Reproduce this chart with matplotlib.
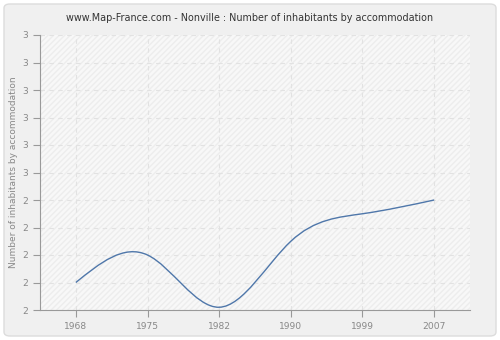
import matplotlib
matplotlib.use("Agg")
import matplotlib.pyplot as plt
from matplotlib.path import Path
from matplotlib.patches import PathPatch, FancyBboxPatch, Rectangle
from matplotlib.ticker import FuncFormatter
import numpy as np
import math

# data
years = ["1968", "1975", "1982", "1990", "1999", "2007"]
values = [2.1, 2.2, 2.01, 2.25, 2.35, 2.4]

title = "www.Map-France.com - Nonville : Number of inhabitants by accommodation"
ylabel = "Number of inhabitants by accommodation"

fig = plt.figure(figsize=(5, 3.4), dpi=100)
fig.patch.set_facecolor("white")
fig.patches.append(FancyBboxPatch((4 / 500, 4 / 340), 492 / 500, 332 / 340,
                                  boxstyle="round,pad=0,rounding_size=0.012",
                                  transform=fig.transFigure, facecolor="#f0f0f0",
                                  edgecolor="#dcdcdc", linewidth=1, zorder=-10))

ax = fig.add_axes([40 / 500, 1 - 310 / 340, 430 / 500, 275 / 340])
ax.set_facecolor("#f8f8f8")
ax.add_patch(Rectangle((0, 0), 1, 1, transform=ax.transAxes, facecolor="none",
                       edgecolor="#ededed", hatch="//////", linewidth=0, zorder=0))

# natural cubic spline -> bezier segments
n = len(values)
xs = np.arange(n, dtype=float)
y = np.array(values)
A = np.zeros((n, n))
b = np.zeros(n)
A[0, 0] = 1
A[-1, -1] = 1
for i in range(1, n - 1):
    A[i, i - 1] = 1
    A[i, i] = 4
    A[i, i + 1] = 1
    b[i] = 6 * (y[i + 1] - 2 * y[i] + y[i - 1])
M = np.linalg.solve(A, b)
slopes = np.zeros(n)
for i in range(n - 1):
    slopes[i] = (y[i + 1] - y[i]) - (2 * M[i] + M[i + 1]) / 6
slopes[-1] = (y[-1] - y[-2]) + (M[-2] + 2 * M[-1]) / 6

verts = [(xs[0], y[0])]
codes = [Path.MOVETO]
for i in range(n - 1):
    verts += [(xs[i] + 1 / 3, y[i] + slopes[i] / 3),
              (xs[i + 1] - 1 / 3, y[i + 1] - slopes[i + 1] / 3),
              (xs[i + 1], y[i + 1])]
    codes += [Path.CURVE4] * 3
ax.add_patch(PathPatch(Path(verts, codes), facecolor="none", edgecolor="#4f77aa",
                       linewidth=1.0, zorder=3, clip_on=False))

ax.set_xlim(-0.5, n - 0.5)
ax.set_ylim(2.0, 3.0)
ax.set_xticks(xs)
ax.set_xticklabels(years)
ax.set_yticks([2.0 + 0.1 * k for k in range(11)])
ax.yaxis.set_major_formatter(FuncFormatter(lambda v, p: str(int(math.floor(v + 0.5 + 1e-9)))))

ax.grid(True, color="#e2e2e2", linestyle=(0, (4, 4)), linewidth=0.8)
ax.set_axisbelow(True)
for s in ["top", "right"]:
    ax.spines[s].set_visible(False)
for s in ["left", "bottom"]:
    ax.spines[s].set_color("#999999")
ax.tick_params(colors="#999999", labelcolor="#888888", labelsize=6.6, length=5, width=0.8)

ax.set_ylabel(ylabel, color="#888888", fontsize=6.5, labelpad=3)
fig.text(0.5, 1 - 18 / 340, title, ha="center", va="center", fontsize=6.9, color="#333333")

fig.savefig("out.png", dpi=100, facecolor=fig.get_facecolor())
